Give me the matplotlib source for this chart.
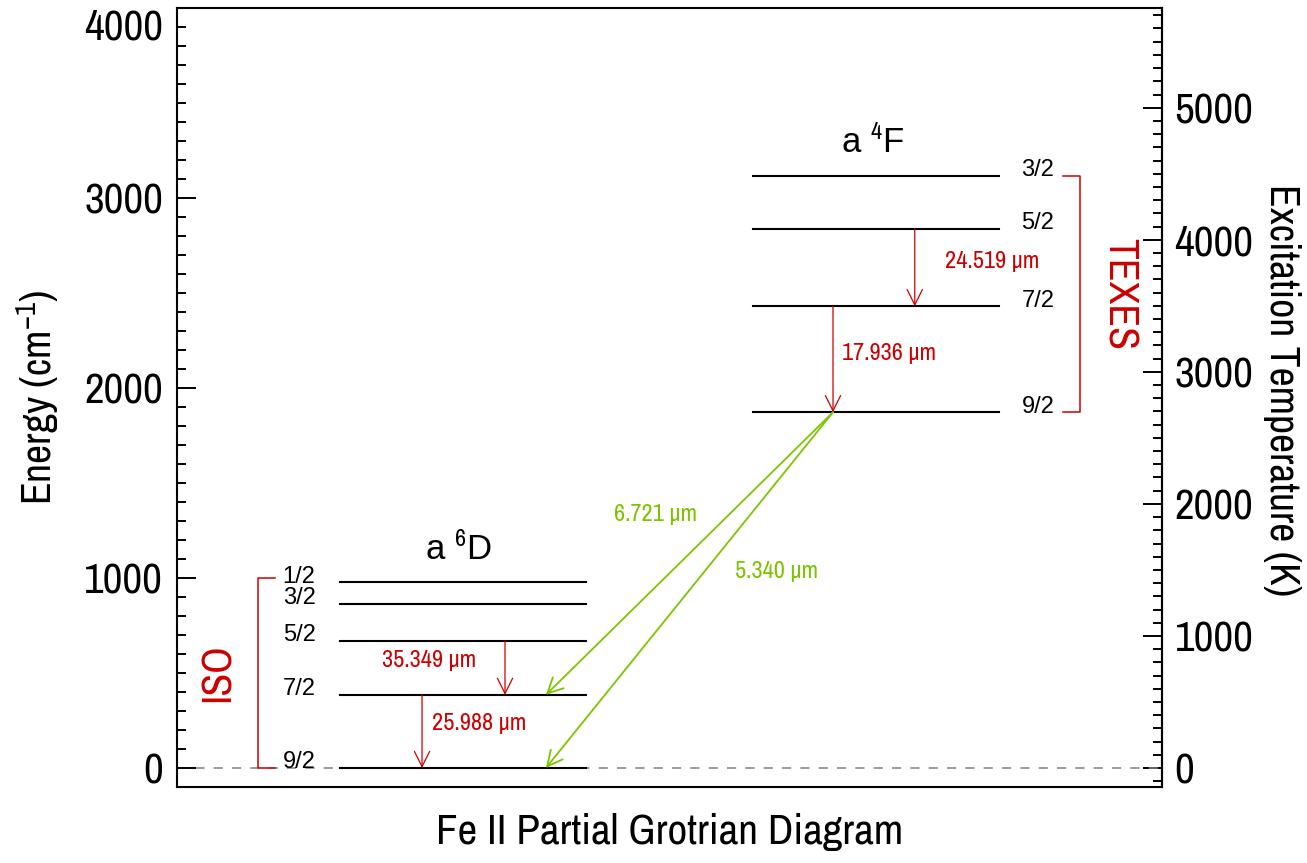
import matplotlib
matplotlib.use("Agg")
import matplotlib.pyplot as plt
from matplotlib.ticker import MultipleLocator

NARROW = ['Liberation Sans Narrow', 'Archivo Narrow', 'Liberation Sans']
plt.rcParams['font.family'] = NARROW
plt.rcParams['mathtext.fontset'] = 'custom'
plt.rcParams['mathtext.rm'] = 'Archivo Narrow'
plt.rcParams['mathtext.it'] = 'Archivo Narrow:italic'
plt.rcParams['mathtext.bf'] = 'Archivo Narrow:bold'

HC_K = 1.4388  # hc/k in cm K

# Fe II levels (cm^-1)
a6D_J = ["9/2", "7/2", "5/2", "3/2", "1/2"]
a6D_E = [0.0, 384.79, 667.68, 862.61, 977.05]
a4F_J = ["9/2", "7/2", "5/2", "3/2"]
a4F_E = [1872.60, 2430.14, 2837.95, 3117.46]

# fine structure lines inside each term (indices into the level lists)
fs_term = ["a6D", "a6D", "a4F", "a4F"]
fs_upper = [2, 1, 2, 1]
fs_lower = [1, 0, 1, 0]
fs_wave = ["35.349", "25.988", "24.519", "17.936"]
# a4F 9/2 -> a6D lines
ir_lower = [1, 0]
ir_wave = ["6.721", "5.340"]

# instrument coverage (cm^-1)
iso_range = [0.0, 1000.0]
texes_range = [a4F_E[0], a4F_E[-1]]

RED = "#CC0000"
GREEN = "#7DC400"

terms = {
    "a6D": dict(E=a6D_E, J=a6D_J, x0=0.165, x1=0.415, name=r"a $^{6}$D"),
    "a4F": dict(E=a4F_E, J=a4F_J, x0=0.585, x1=0.835, name=r"a $^{4}$F"),
}

fig = plt.figure(figsize=(13.07, 8.63), dpi=100)
ax = fig.add_axes([177 / 1307, 1 - 787 / 863, 985 / 1307, 779 / 863])
ax.set_xlim(0, 1)
ax.set_ylim(-100, 4000)

# ground level reference
ax.axhline(0, color="#808080", lw=1.1, ls=(0, (6, 6)), zorder=1)

# levels
for key, t in terms.items():
    for E, J in zip(t["E"], t["J"]):
        ax.plot([t["x0"], t["x1"]], [E, E], color="black", lw=1.5, zorder=2)
        lx = t["x0"] - 0.041 if key == "a6D" else t["x1"] + 0.039
        ax.text(lx, E + 30, J, ha="center", va="center", fontsize=17,
                family="Liberation Sans")
    ax.text((t["x0"] + t["x1"]) / 2 - 0.004, t["E"][-1] + 120, t["name"], ha="center",
            va="baseline", fontsize=25, family="Liberation Sans")

arrow_red = dict(arrowstyle="->,head_length=1.1,head_width=0.55", color=RED,
                 lw=0.9, shrinkA=0, shrinkB=0, mutation_scale=10)
arrow_green = dict(arrowstyle="->,head_length=1.1,head_width=0.55", color=GREEN,
                   lw=1.3, shrinkA=0, shrinkB=0, mutation_scale=10)

# fine structure transitions
fs_frac = [0.672, 0.335, 0.656, 0.324]
fs_text = [(0.256, 566), (0.3066, 235), (0.828, 2668), (0.723, 2184)]
for term, up, lo, w, f, (tx, ty) in zip(fs_term, fs_upper, fs_lower, fs_wave, fs_frac, fs_text):
    t = terms[term]
    x = t["x0"] + f * (t["x1"] - t["x0"])
    ax.annotate("", xy=(x, t["E"][lo]), xytext=(x, t["E"][up]), arrowprops=arrow_red, zorder=3)
    ax.text(tx, ty, w + " \u03bcm", color=RED, fontsize=17.5, ha="center", va="center")

# a4F 9/2 -> a6D transitions
x_start = terms["a4F"]["x0"] + 0.324 * 0.25
x_end = terms["a6D"]["x0"] + 0.838 * 0.25
ir_text = [(0.486, 1333), (0.609, 1034)]
for lo, w, (tx, ty) in zip(ir_lower, ir_wave, ir_text):
    ax.annotate("", xy=(x_end, a6D_E[lo]), xytext=(x_start, a4F_E[0]),
                arrowprops=arrow_green, zorder=3)
    ax.text(tx, ty, w + " \u03bcm", color=GREEN, fontsize=17.5, ha="center", va="center")

# instrument brackets
ax.plot([0.0995, 0.0822, 0.0822, 0.0995], [iso_range[0], iso_range[0], iso_range[1], iso_range[1]],
        color=RED, lw=1.1)
ax.text(0.0416, sum(iso_range) / 2, "ISO", color=RED, fontsize=30, rotation=90,
        ha="center", va="center")
ax.plot([0.8995, 0.9168, 0.9168, 0.8995], [texes_range[0], texes_range[0], texes_range[1], texes_range[1]],
        color=RED, lw=1.1)
ax.text(0.957, sum(texes_range) / 2, "TEXES", color=RED, fontsize=30, rotation=270,
        ha="center", va="center")

# axes styling
for s in ax.spines.values():
    s.set_linewidth(1.5)
ax.set_xticks([])
ax.set_yticks([0, 1000, 2000, 3000, 4000])
ax.yaxis.set_minor_locator(MultipleLocator(100))
ax.tick_params(axis="y", which="both", direction="in", right=False, width=1.4, labelsize=31, pad=10)
ax.tick_params(axis="y", which="major", length=14)
ax.tick_params(axis="y", which="minor", length=6.5)
ax.get_yticklabels()[-1].set_va("top")

ax.set_ylabel("Energy (cm$^{-1}$)", fontsize=30, va="center")
ax.yaxis.set_label_coords(-0.141, 0.5)
ax.set_xlabel("Fe II Partial Grotrian Diagram", fontsize=31, va="center")
ax.xaxis.set_label_coords(0.5, -0.058)

sec = ax.secondary_yaxis("right", functions=(lambda e: e * HC_K, lambda k: k / HC_K))
sec.yaxis.set_major_locator(MultipleLocator(1000))
sec.yaxis.set_minor_locator(MultipleLocator(100))
sec.tick_params(which="both", direction="in", width=1.4, labelsize=31, pad=9)
sec.tick_params(which="major", length=14)
sec.tick_params(which="minor", length=6.5)
sec.spines["right"].set_linewidth(1.5)
fig.text(1282 / 1307, 1 - 390 / 863, "Excitation Temperature (K)", fontsize=30,
         rotation=270, ha="center", va="center")

fig.savefig("out.png", dpi=100)
